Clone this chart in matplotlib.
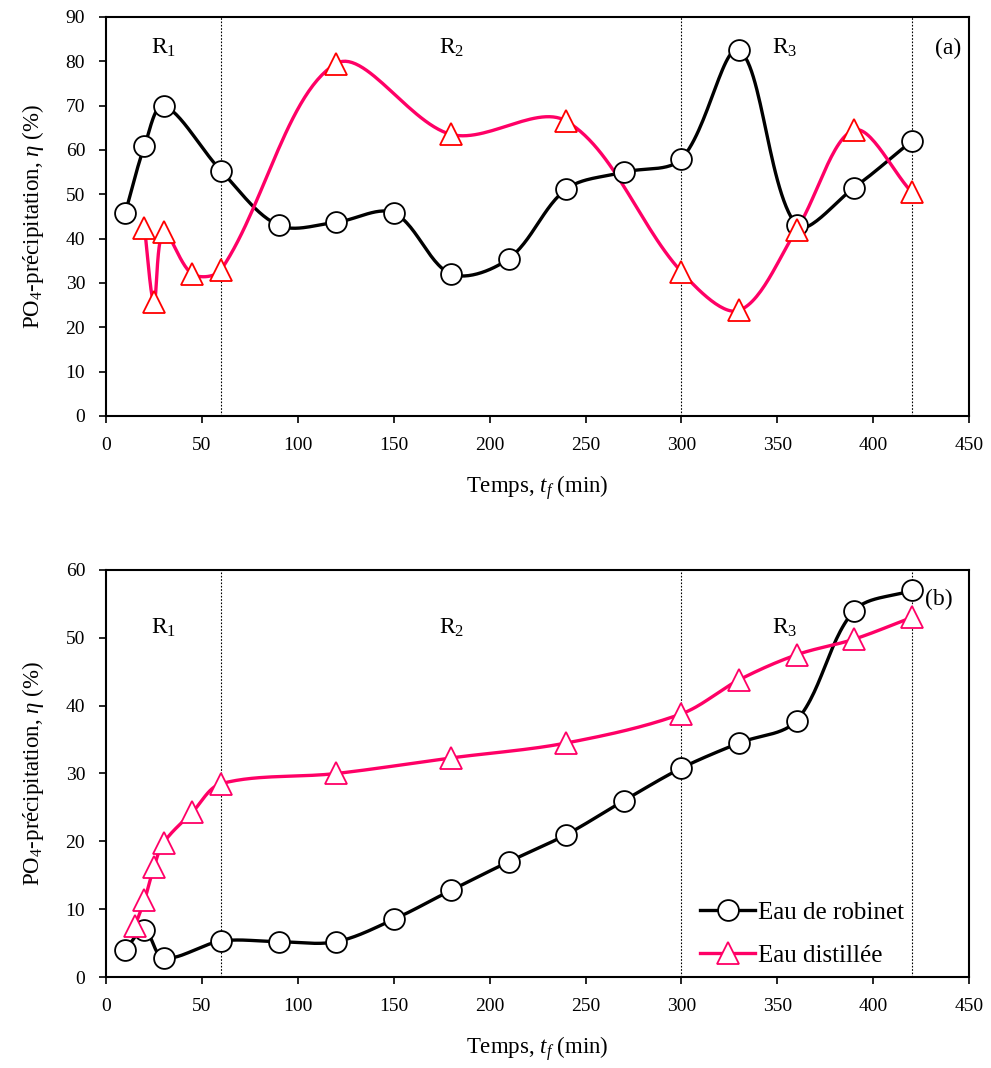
import numpy as np
import matplotlib
matplotlib.use("Agg")
import matplotlib.pyplot as plt

plt.rcParams['font.family'] = ['Liberation Serif', 'DejaVu Serif']
plt.rcParams['mathtext.fontset'] = 'custom'
plt.rcParams['mathtext.rm'] = 'Liberation Serif'
plt.rcParams['mathtext.it'] = 'Liberation Serif:italic'

# panel (a)
t_rob_a = [10, 20, 30, 60, 90, 120, 150, 180, 210, 240, 270, 300, 330, 360, 390, 420]
y_rob_a = [45.8, 60.8, 70, 55.3, 43, 43.7, 45.8, 32, 35.5, 51.2, 55, 58, 82.5, 43, 51.5, 62]
t_dis_a = [20, 25, 30, 45, 60, 120, 180, 240, 300, 330, 360, 390, 420]
y_dis_a = [42.5, 25.8, 41.5, 32, 33, 79.5, 63.5, 66.5, 32.5, 23.8, 42, 64.5, 50.5]

# panel (b)
t_rob_b = [10, 20, 30, 60, 90, 120, 150, 180, 210, 240, 270, 300, 330, 360, 390, 420]
y_rob_b = [4, 7, 2.8, 5.3, 5.2, 5.2, 8.5, 12.8, 17, 21, 26, 30.8, 34.5, 37.8, 54, 57]
t_dis_b = [15, 20, 25, 30, 45, 60, 120, 180, 240, 300, 330, 360, 390, 420]
y_dis_b = [7.5, 11.3, 16.2, 19.8, 24.3, 28.5, 30, 32.3, 34.5, 38.8, 43.8, 47.5, 49.8, 53]

regions = [60, 300, 420]


def smooth(x, y, sx, sy, n=30):
    # smoothed line like Excel: Bezier with tangents weighted by chord length (in pixels)
    x = np.asarray(x, float)
    y = np.asarray(y, float)
    P = np.column_stack([x, y])
    scale = np.array([sx, sy])
    m = len(x)
    d = [np.hypot(*((P[i + 1] - P[i]) * scale)) for i in range(m - 1)]
    xs, ys = [x[0]], [y[0]]
    for i in range(m - 1):
        i0, i3 = max(i - 1, 0), min(i + 2, m - 1)
        p0, p1, p2, p3 = P[i0], P[i], P[i + 1], P[i3]
        d01 = d[i - 1] if i > 0 else 0.0
        d12 = d[i]
        d23 = d[i + 1] if i + 1 < m - 1 else 0.0
        c1 = p1 + (p2 - p0) * d12 / (3 * (d01 + d12))
        c2 = p2 - (p3 - p1) * d12 / (3 * (d12 + d23))
        s = np.linspace(0, 1, n)[1:]
        pts = ((1 - s) ** 3)[:, None] * p1 + (3 * (1 - s) ** 2 * s)[:, None] * c1 \
            + (3 * (1 - s) * s ** 2)[:, None] * c2 + (s ** 3)[:, None] * p2
        xs.extend(pts[:, 0])
        ys.extend(pts[:, 1])
    return xs, ys


fig = plt.figure(figsize=(9.91, 10.68), dpi=100)
ax1 = fig.add_axes([0.107, 0.6105, 0.871, 0.3736])
ax2 = fig.add_axes([0.107, 0.0852, 0.871, 0.3811])

pink = '#FF0066'

panels = [
    (ax1, t_rob_a, y_rob_a, t_dis_a, y_dis_a, 90, 10, 83, 'red', 399),
    (ax2, t_rob_b, y_rob_b, t_dis_b, y_dis_b, 60, 10, 51.5, pink, 407),
]

for ax, tr, yr, td, yd, ymax, ystep, ry, tri_edge, hpx in panels:
    px_x = 863 / 450
    px_y = hpx / ymax
    for xv in regions:
        ax.axvline(xv, color='black', linestyle=(0, (1.5, 1.5)), linewidth=0.8, zorder=1)
    lx, ly = smooth(tr, yr, px_x, px_y)
    ax.plot(lx, ly, color='black', linewidth=2.4, zorder=2)
    lx, ly = smooth(td, yd, px_x, px_y)
    ax.plot(lx, ly, color=pink, linewidth=2.4, zorder=2)
    ax.plot(tr, yr, linestyle='none', marker='o', markersize=15, markerfacecolor='white',
            markeredgecolor='black', markeredgewidth=1.3, zorder=3)
    ax.plot(td, yd, linestyle='none', marker='^', markersize=16, markerfacecolor='white',
            markeredgecolor=tri_edge, markeredgewidth=1.3, zorder=4)

    ax.set_xlim(0, 450)
    ax.set_ylim(0, ymax)
    ax.set_xticks(np.arange(0, 451, 50))
    ax.set_yticks(np.arange(0, ymax + 1, ystep))
    ax.tick_params(direction='out', length=5, width=1.2, labelsize=14, pad=10)
    for sp in ax.spines.values():
        sp.set_linewidth(1.5)
    ax.set_xlabel('Temps, $t_f$ (min)', fontsize=16.5, labelpad=14)
    ax.set_ylabel('PO$_4$-précipitation, $\\eta$ (%)', fontsize=16.5, labelpad=14)

    ax.text(30, ry, 'R$_1$', fontsize=17, ha='center', va='center')
    ax.text(180, ry, 'R$_2$', fontsize=17, ha='center', va='center')
    ax.text(354, ry, 'R$_3$', fontsize=17, ha='center', va='center')

ax1.text(439, 83, '(a)', fontsize=17, ha='center', va='center')
ax2.text(434, 55.7, '(b)', fontsize=17, ha='center', va='center')

h1, = ax2.plot([], [], color='black', linewidth=2.4, marker='o', markersize=15,
               markerfacecolor='white', markeredgecolor='black', markeredgewidth=1.3)
h2, = ax2.plot([], [], color=pink, linewidth=2.4, marker='^', markersize=16,
               markerfacecolor='white', markeredgecolor=pink, markeredgewidth=1.3)
ax2.legend([h1, h2], ['Eau de robinet', 'Eau distillée'], loc='lower right',
           bbox_to_anchor=(0.95, -0.03), frameon=False, fontsize=18, handlelength=2.2,
           handletextpad=0.1, labelspacing=0.8)

fig.savefig('out.png', dpi=100)
